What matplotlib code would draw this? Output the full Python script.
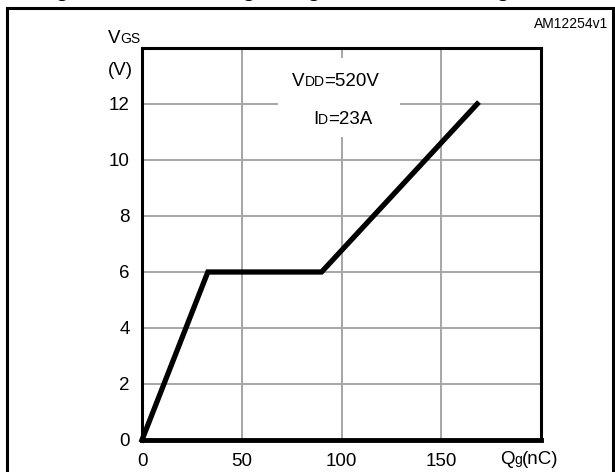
import matplotlib
matplotlib.use("Agg")
import matplotlib.pyplot as plt
from matplotlib.patches import Rectangle

plt.rcParams['font.family'] = ['Liberation Sans', 'DejaVu Sans']

qg = [0, 33, 90, 168]
vgs = [0, 6, 6, 12]
xticks = [0, 50, 100, 150]
yticks = [0, 2, 4, 6, 8, 10, 12]

W, H = 615, 472
fig = plt.figure(figsize=(W / 100, H / 100), dpi=100)
renderer = fig.canvas.get_renderer()

def fx(px):
    return px / W

def fy(py):
    return 1 - py / H

def pieces(x0, ybase, parts):
    """Draw text pieces one after another on a common baseline (pixels)."""
    x = x0
    for s, size in parts:
        t = fig.text(fx(x), fy(ybase), s, fontsize=size, ha='left', va='baseline')
        bb = t.get_window_extent(renderer)
        x += bb.width

ax = fig.add_axes([fx(142), fy(440), fx(541) - fx(142), fy(48) - fy(440)])
ax.set_xlim(0, 200)
ax.set_ylim(0, 14)
ax.set_xticks(xticks)
ax.set_yticks(yticks)
ax.tick_params(length=0, labelsize=13.5, pad=9)
ax.grid(True, color='#a6a6a6', lw=1.4)
ax.set_axisbelow(True)
for s in ['left', 'top', 'right']:
    ax.spines[s].set_linewidth(2.2)
ax.spines['bottom'].set_linewidth(3.5)

# white box behind annotation
ax.add_patch(Rectangle((0.341, 0.773), 0.306, 0.201, transform=ax.transAxes,
                       facecolor='white', edgecolor='none', zorder=1.5))

ax.plot(qg, vgs, color='black', lw=3.8, solid_joinstyle='miter', zorder=3,
        clip_on=False)

fs = 13.5
small = 10
pieces(108, 43, [('V', fs), ('GS', small)])
pieces(108, 75, [('(V)', fs)])
pieces(500, 464, [('Q', fs), ('g', small), ('(nC)', fs)])
pieces(292, 86, [('V', fs), ('DD', small), ('=520V', fs)])
pieces(313, 124, [('I', fs), ('D', small), ('=23A', fs)])
fig.text(fx(608), fy(28), 'AM12254v1', fontsize=10, ha='right', va='baseline')
# cut-off title (only descenders visible)
fig.text(fx(35), fy(-4), 'Figure 8. Gate charge vs gate-source voltage',
         fontsize=16.5, fontweight='bold', ha='left', va='baseline')

# outer frame
fig.add_artist(Rectangle((fx(7), fy(480)), fx(613) - fx(7), fy(8) - fy(480),
                         transform=fig.transFigure, fill=False,
                         edgecolor='black', lw=2.2))

fig.savefig('out.png', dpi=100)
